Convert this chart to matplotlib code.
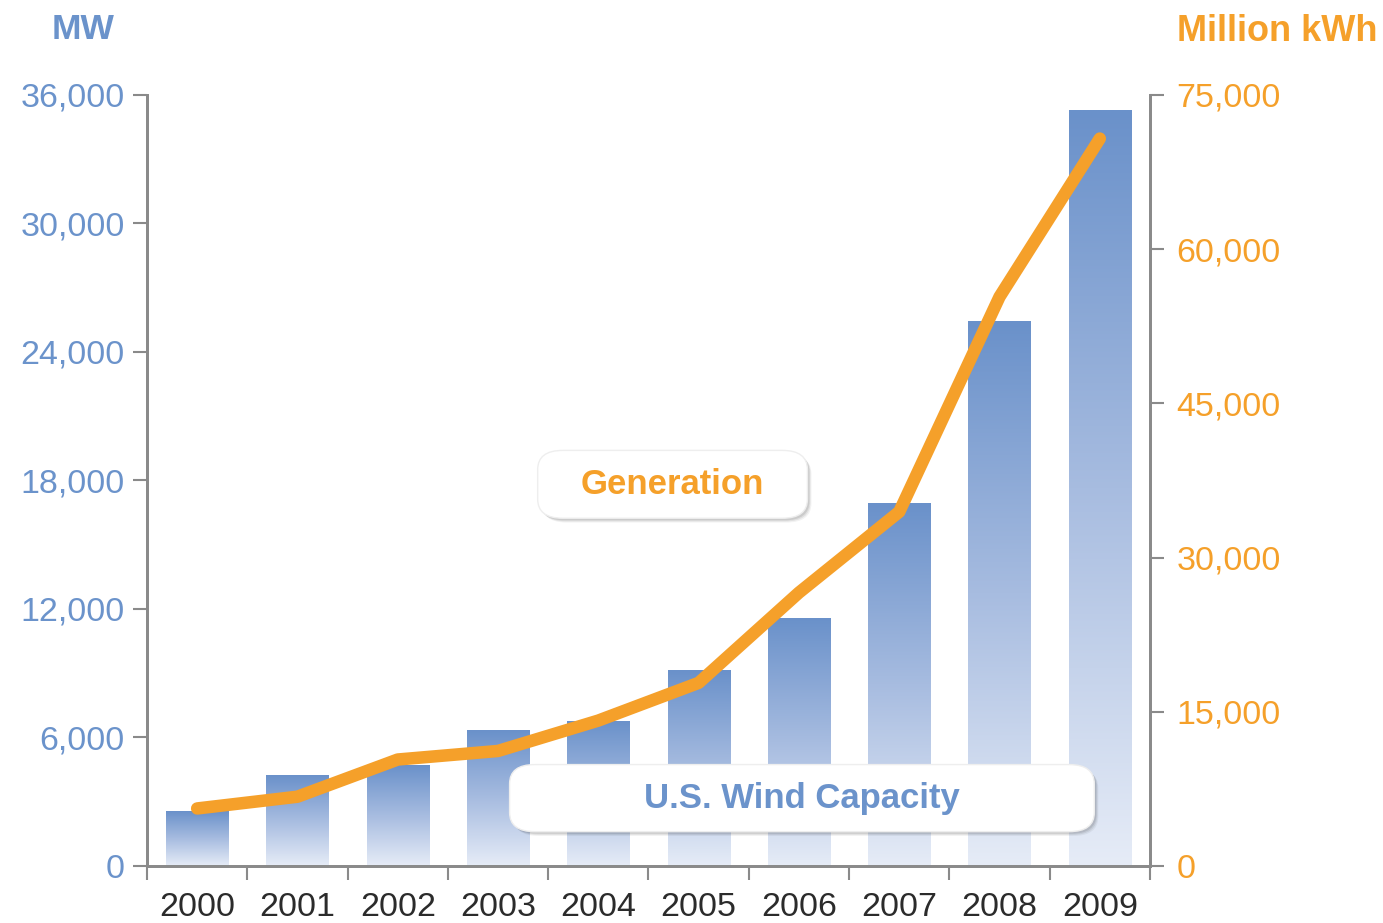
import numpy as np
import matplotlib
matplotlib.use('Agg')
import matplotlib.pyplot as plt
from matplotlib.colors import LinearSegmentedColormap
from matplotlib.patches import FancyBboxPatch

plt.rcParams['font.family'] = ['Liberation Sans', 'DejaVu Sans']

years = ['2000', '2001', '2002', '2003', '2004', '2005', '2006', '2007', '2008', '2009']
capacity_mw = [2539, 4232, 4687, 6350, 6725, 9149, 11575, 16907, 25410, 35300]
generation_gwh = [5593, 6737, 10354, 11187, 14144, 17811, 26589, 34450, 55363, 70761]
left_ticks = [0, 6000, 12000, 18000, 24000, 30000, 36000]
right_ticks = [0, 15000, 30000, 45000, 60000, 75000]

blue = '#6b93cb'
orange = '#f5a02a'
axis_gray = '#8a8a8a'

fig = plt.figure(figsize=(13.83, 9.23), dpi=100)
ax = fig.add_axes([0.1063, 0.0618, 0.7252, 0.8353])
ax2 = ax.twinx()

x = np.arange(len(years))
bars = ax.bar(x, capacity_mw, width=0.62, color='none', zorder=2)

# gradient fill per bar, dark at the top, pale at the base
cmap = LinearSegmentedColormap.from_list('bars', ['#e6ecf7', '#a7bce0', '#6a91ca'])
grad = np.linspace(0, 1, 256).reshape(-1, 1)
for b in bars:
    x0, w, h = b.get_x(), b.get_width(), b.get_height()
    ax.imshow(grad, cmap=cmap, origin='lower', aspect='auto',
              extent=[x0, x0 + w, 0, h], zorder=2)

ax.set_xlim(-0.5, 9.5)
ax.set_ylim(0, 36000)
ax.set_yticks(left_ticks)
ax.set_yticklabels([f'{v:,}' for v in left_ticks])
ax.set_xticks(np.arange(-0.5, 10, 1))
ax.set_xticklabels([])
ax.set_xticks(x, minor=True)
ax.set_xticklabels(years, minor=True)
ax.tick_params(axis='x', which='major', direction='out', length=10, width=1.5, color=axis_gray)
ax.tick_params(axis='x', which='minor', length=0, pad=19, labelsize=24.5, labelcolor='#2b2b2b')
ax.tick_params(axis='y', direction='out', length=10, width=1.5, color=axis_gray,
               labelsize=24.5, labelcolor=blue, pad=6)

ax2.plot(x, generation_gwh, color=orange, lw=9, solid_capstyle='round',
         solid_joinstyle='round', zorder=3)
ax2.set_ylim(0, 75000)
ax2.set_yticks(right_ticks)
ax2.set_yticklabels([f'{v:,}' for v in right_ticks])
ax2.tick_params(axis='y', direction='out', length=10, width=1.5, color=axis_gray,
                labelsize=24.5, labelcolor=orange, pad=9)

for a in (ax, ax2):
    a.spines['top'].set_visible(False)
    a.patch.set_visible(False)
    for s in ('left', 'right', 'bottom'):
        a.spines[s].set_color(axis_gray)
        a.spines[s].set_linewidth(2)

fig.text(0.060, 0.968, 'MW', color=blue, fontsize=25.5, fontweight='bold',
         ha='center', va='center')
fig.text(0.996, 0.966, 'Million kWh', color=orange, fontsize=26, fontweight='bold',
         ha='right', va='center')


def label_box(cx, cy, w, h, text, color):
    # soft shadow then white rounded box, positioned in axes fractions
    for i, al in enumerate([0.05, 0.07, 0.09]):
        off = 0.004 - i * 0.001
        sh = FancyBboxPatch((cx - w / 2 + off, cy - h / 2 - off * 1.4), w, h,
                            boxstyle='round,pad=0,rounding_size=0.025',
                            transform=ax2.transAxes, facecolor='black',
                            edgecolor='none', alpha=al, zorder=5)
        ax2.add_patch(sh)
    box = FancyBboxPatch((cx - w / 2, cy - h / 2), w, h,
                         boxstyle='round,pad=0,rounding_size=0.025',
                         transform=ax2.transAxes, facecolor='white',
                         edgecolor='#eeeeee', lw=1, zorder=6)
    ax2.add_patch(box)
    ax2.text(cx, cy, text, transform=ax2.transAxes, ha='center', va='center',
             fontsize=25, fontweight='bold', color=color, zorder=7)


label_box(0.524, 0.495, 0.269, 0.088, 'Generation', orange)
label_box(0.653, 0.088, 0.583, 0.087, 'U.S. Wind Capacity', blue)

fig.savefig('out.png', dpi=100)
